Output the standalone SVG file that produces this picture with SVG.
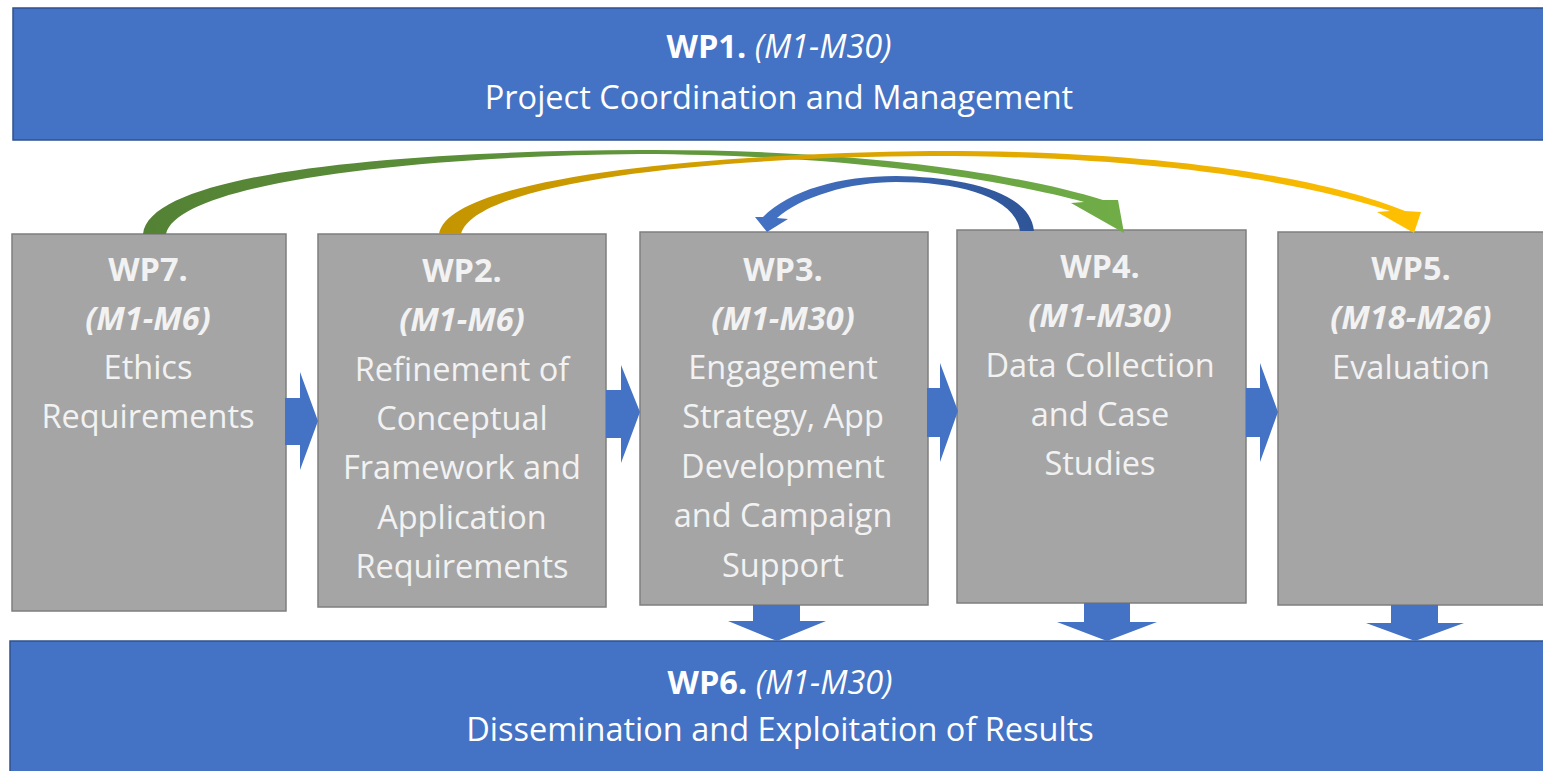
<svg xmlns="http://www.w3.org/2000/svg" width="1543" height="771" viewBox="0 0 1543 771">
<style>
.bar{fill:#4472C4;stroke:#2F528F;stroke-width:1.5}
.box{fill:#A5A5A5;stroke:#7F7F7F;stroke-width:1.5}
.blk{fill:#4472C4}
text{font-family:"Open Sans","Liberation Sans",sans-serif;font-size:32.5px;text-anchor:middle}
.bt{fill:#FFFFFF}
.gt{fill:#F2F2F2}
.b{font-weight:bold}
.i{font-style:italic}
</style>
<defs>
<linearGradient id="gG" x1="143" y1="0" x2="1124" y2="0" gradientUnits="userSpaceOnUse">
<stop offset="0" stop-color="#548235"/><stop offset="0.6" stop-color="#62993D"/><stop offset="1" stop-color="#70AD47"/>
</linearGradient>
<linearGradient id="gY" x1="439" y1="0" x2="1420" y2="0" gradientUnits="userSpaceOnUse">
<stop offset="0" stop-color="#C49500"/><stop offset="0.6" stop-color="#E3AA00"/><stop offset="1" stop-color="#FFC000"/>
</linearGradient>
<linearGradient id="gB" x1="1034" y1="0" x2="756" y2="0" gradientUnits="userSpaceOnUse">
<stop offset="0" stop-color="#2F5597"/><stop offset="1" stop-color="#4472C4"/>
</linearGradient>
</defs>

<g id="wp1">
<rect class="bar" x="13" y="8" width="1540" height="132"/>
<text class="bt" x="779" y="58"><tspan class="b">WP1.</tspan> <tspan class="i">(M1-M30)</tspan></text>
<text class="bt" x="779" y="109">Project Coordination and Management</text>
</g>

<g id="wp6">
<rect class="bar" x="10" y="641" width="1543" height="140"/>
<text class="bt" x="780" y="694"><tspan class="b">WP6.</tspan> <tspan class="i">(M1-M30)</tspan></text>
<text class="bt" x="780" y="741">Dissemination and Exploitation of Results</text>
</g>

<g id="wp7">
<rect class="box" x="12" y="234" width="274" height="377"/>
<text class="gt b" x="148" y="281">WP7.</text>
<text class="gt b i" x="148" y="330">(M1-M6)</text>
<text class="gt" x="148" y="379">Ethics</text>
<text class="gt" x="148" y="428">Requirements</text>
</g>

<g id="wp2">
<rect class="box" x="318" y="234" width="288" height="373"/>
<text class="gt b" x="462" y="282">WP2.</text>
<text class="gt b i" x="462" y="331">(M1-M6)</text>
<text class="gt" x="462" y="381">Refinement of</text>
<text class="gt" x="462" y="430">Conceptual</text>
<text class="gt" x="462" y="479">Framework and</text>
<text class="gt" x="462" y="529">Application</text>
<text class="gt" x="462" y="578">Requirements</text>
</g>

<g id="wp3">
<rect class="box" x="640" y="232" width="288" height="373"/>
<text class="gt b" x="783" y="281">WP3.</text>
<text class="gt b i" x="783" y="330">(M1-M30)</text>
<text class="gt" x="783" y="379">Engagement</text>
<text class="gt" x="783" y="428">Strategy, App</text>
<text class="gt" x="783" y="478">Development</text>
<text class="gt" x="783" y="527">and Campaign</text>
<text class="gt" x="783" y="577">Support</text>
</g>

<g id="wp4">
<rect class="box" x="957" y="230" width="289" height="373"/>
<text class="gt b" x="1100" y="278">WP4.</text>
<text class="gt b i" x="1100" y="327">(M1-M30)</text>
<text class="gt" x="1100" y="377">Data Collection</text>
<text class="gt" x="1100" y="426">and Case</text>
<text class="gt" x="1100" y="475">Studies</text>
</g>

<g id="wp5">
<rect class="box" x="1278" y="232" width="275" height="373"/>
<text class="gt b" x="1411" y="280">WP5.</text>
<text class="gt b i" x="1411" y="329">(M18-M26)</text>
<text class="gt" x="1411" y="379">Evaluation</text>
</g>

<g id="connectors">
<polygon class="blk" points="285,398 300,398 300,372 318,421 300,470 300,445 285,445"/>
<polygon class="blk" points="606,390 621,390 621,365 640,412 621,463 621,438 606,438"/>
<polygon class="blk" points="927,388 940,388 940,363 958,411 940,462 940,437 927,437"/>
<polygon class="blk" points="1246,388 1260,388 1260,363 1278,412 1260,462 1260,437 1246,437"/>
<polygon class="blk" points="753,605 800,605 800,621 826,621 777,641 728,621 753,621"/>
<polygon class="blk" points="1084,603 1130,603 1130,622 1157,622 1107,641 1057,622 1084,622"/>
<polygon class="blk" points="1391,605 1438,605 1438,623 1464,623 1415,641 1366,623 1391,623"/>
<path fill="url(#gG)" d="M143,234 C150,172 400,151 640,150 C860,149 1020,174 1103,200 L1118,200 L1124,233 L1071,203 L1084,202 C1010,182 860,155 640,154 C420,156 178,182 166,234 Z"/>
<path fill="url(#gY)" d="M439,234 C448,178 700,154 930,151 C1160,150 1320,177 1405,211 L1421,212 L1414,233 L1377,212 L1390,211 C1310,184 1160,156 930,156 C710,157 475,182 461,234 Z"/>
<path fill="url(#gB)" d="M1034,231 C1030,190 960,177 896,176 C840,176 790,190 763,217 L755,217 L767,232 L788,219 L777,218 C800,197 850,182 896,182 C960,182 1015,197 1020,231 Z"/>
</g>
</svg>
